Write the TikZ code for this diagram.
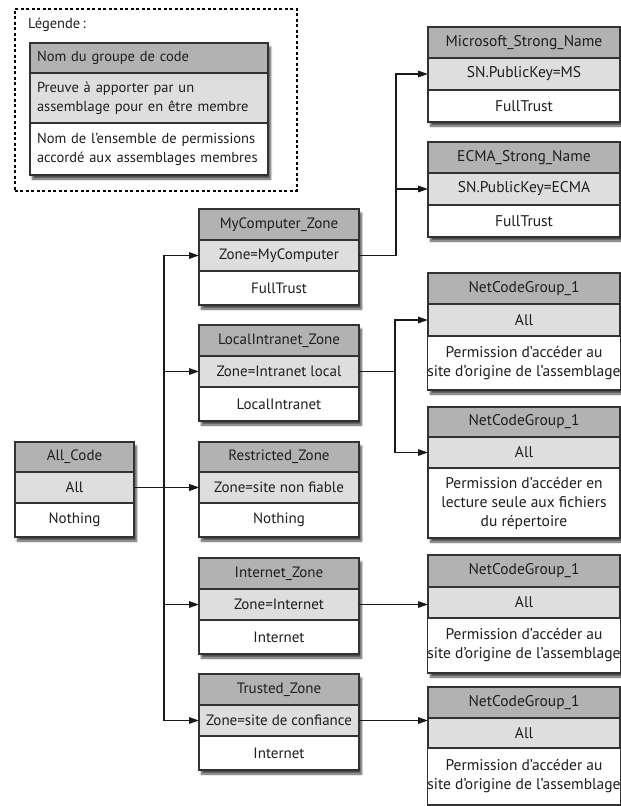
\documentclass[tikz,border=0pt]{standalone}
\usepackage{fontspec}
\setmainfont{PT Sans}
\usetikzlibrary{shadows.blur,backgrounds,arrows.meta}
\definecolor{hdgray}{RGB}{178,178,178}
\definecolor{evgray}{RGB}{222,222,222}
\definecolor{linegray}{RGB}{50,50,50}
\definecolor{txt}{RGB}{30,30,30}
\newcommand\cgbox[9]{%
  \node[hd, minimum width=#3pt, minimum height=#4pt, anchor=north west] (#1) at (#2) {#7};
  \node[ev, minimum width=#3pt, minimum height=#5pt, anchor=north] (#1E) at (#1.south) {#8};
  \node[pm, minimum width=#3pt, minimum height=#6pt, anchor=north] (#1P) at (#1E.south) {#9};
  \begin{scope}[on background layer]
    \fill[shad] (#1.north west) rectangle (#1P.south east);
  \end{scope}}
\begin{document}
\begin{tikzpicture}[x=1pt,y=-1pt,
  cell/.style={draw=linegray, line width=1.3pt, inner sep=0pt, outer sep=0pt,
    align=center, font=\fontsize{15}{18.8}\selectfont, text=txt},
  hd/.style={cell, fill=hdgray},
  ev/.style={cell, fill=evgray},
  pm/.style={cell, fill=white},
  legfont/.style={font=\fontsize{14.5}{18.8}\selectfont},
  conn/.style={draw=black!90, line width=1.5pt},
  arr/.style={conn, -{Triangle[length=10pt,width=6.5pt]}},
  shad/.style={fill=white, blur shadow={shadow xshift=2.5pt, shadow yshift=-4pt,
    shadow blur steps=6, shadow opacity=70}},
]
\useasboundingbox (0,0) rectangle (621,806);

% legend
\node[draw=black, line width=1.5pt, dash pattern=on 3pt off 2.5pt,
  minimum width=282pt, minimum height=182pt, inner sep=0pt, anchor=north west] (frame) at (14,8) {};
\node[anchor=west, inner sep=0pt, legfont, text=txt] (lgt) at (28,25) {Légende\,:};
\node[hd, legfont, anchor=north west, text width=224pt, inner xsep=7pt, minimum height=30pt, align=left] (lg) at (30,43) {Nom du groupe de code};
\node[ev, legfont, anchor=north, text width=224pt, inner xsep=7pt, minimum height=50pt, align=left] (lgE) at (lg.south) {Preuve à apporter par un\\assemblage pour en être membre};
\node[pm, legfont, anchor=north, text width=224pt, inner xsep=7pt, minimum height=52pt, align=left] (lgP) at (lgE.south) {Nom de l’ensemble de permissions\\accordé aux assemblages membres};
\begin{scope}[on background layer]
  \fill[shad] (lg.north west) rectangle (lgP.south east);
\end{scope}

% root
\cgbox{ac}{15,442}{119}{30}{31}{34}{All\_Code}{All}{Nothing}

% zones
\cgbox{mc}{199,209}{160}{31}{31}{34}{MyComputer\_Zone}{Zone=MyComputer}{FullTrust}
\cgbox{li}{199,325}{160}{31}{31}{34}{LocalIntranet\_Zone}{Zone=Intranet local}{LocalIntranet}
\cgbox{rz}{199,442}{160}{30}{31}{34}{Restricted\_Zone}{Zone=site non fiable}{Nothing}
\cgbox{iz}{199,558}{160}{31}{31}{34}{Internet\_Zone}{Zone=Internet}{Internet}
\cgbox{tz}{199,674}{160}{31}{31}{34}{Trusted\_Zone}{Zone=site de confiance}{Internet}

% right column
\begin{scope}[cell/.append style={font=\fontsize{15.5}{19}\selectfont}]
\cgbox{ms}{428,27}{192}{31}{32}{32}{Microsoft\_Strong\_Name}{SN.PublicKey=MS}{FullTrust}
\cgbox{ec}{428,142}{192}{31}{32}{32}{ECMA\_Strong\_Name}{SN.PublicKey=ECMA}{FullTrust}
\cgbox{na}{428,273}{192}{31}{32}{54}{NetCodeGroup\_1}{All}{Permission d’accéder au\\site d’origine de l’assemblage}
\cgbox{nb}{428,407}{192}{30}{31}{70}{NetCodeGroup\_1}{All}{Permission d’accéder en\\lecture seule aux fichiers\\du répertoire}
\cgbox{nc}{428,555}{192}{32}{31}{55}{NetCodeGroup\_1}{All}{Permission d’accéder au\\site d’origine de l’assemblage}
\cgbox{nd}{428,687}{192}{31}{30}{57}{NetCodeGroup\_1}{All}{Permission d’accéder au\\site d’origine de l’assemblage}
\end{scope}

% bus coordinates
\coordinate (busL) at (164,0);
\coordinate (busT) at (396,0);
\coordinate (busM) at (395,0);

% connectors
\draw[arr] (acE.east) -- (acE.east -| rzE.west);
\draw[arr] (busL |- rzE.west) |- (mcE.west);
\draw[arr] (busL |- rzE.west) |- (tzE.west);
\draw[arr] (busL |- liE.west) -- (liE.west);
\draw[arr] (busL |- rzE.west) -- (rzE.west);
\draw[arr] (busL |- izE.west) -- (izE.west);

\draw[arr] (mcE.east) -| (busT |- msE.west) -- (msE.west);
\draw[arr] (busT |- ecE.west) -- (ecE.west);

\draw[arr] (liE.east) -| (busM |- naE.west) -- (naE.west);
\draw[arr] (busM |- liE.east) |- (nbE.west);

\draw[arr] (izE.east) -- (izE.east -| ncE.west);
\draw[arr] (tzE.east) -- (tzE.east -| ndE.west);
\end{tikzpicture}
\end{document}
